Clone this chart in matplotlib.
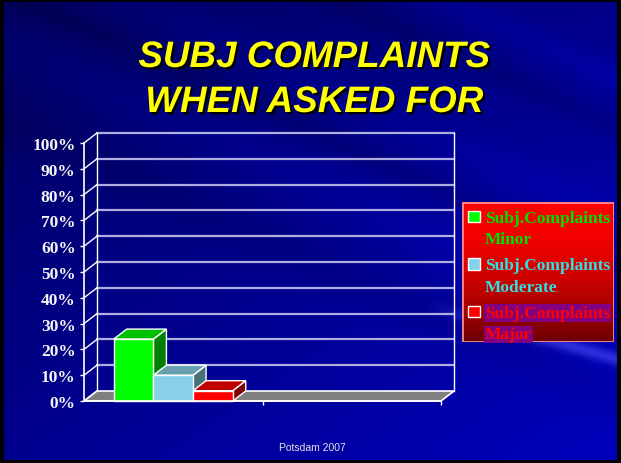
import numpy as np
import matplotlib
matplotlib.use('Agg')
import matplotlib.pyplot as plt
from matplotlib.patches import Polygon, Rectangle
import matplotlib.patheffects as pe

# ---- data ----
categories = ['', '']          # two category slots, only the first one holds bars
series = ['Minor', 'Moderate', 'Major']
values = [24, 10, 4]           # percent, first category
legend_prefix = 'Subj.Complaints'
y_ticks = list(range(0, 101, 10))
title_lines = ['SUBJ COMPLAINTS', 'WHEN ASKED FOR']
footer = 'Potsdam 2007'

# colours: front / top / side of each box, legend text colour
front_col = ['#00ff00', '#88d0ea', '#ff0000']
top_col = ['#00c000', '#68a0b0', '#c00000']
side_col = ['#008000', '#487078', '#800000']
text_col = ['#00e000', '#33dede', '#ff0000']
label_bg = [None, None, '#800080']

W, H = 621, 464
fig = plt.figure(figsize=(W / 100, H / 100), dpi=100)
fig.patch.set_facecolor('black')

# ---- slide background (dark blue with diagonal streaks) ----
bg = fig.add_axes([4 / W, 3 / H, (W - 8) / W, (H - 6) / H])
bh, bw = 458, 613
yy, xx = np.mgrid[0:bh, 0:bw].astype(float)
blue = 0.36 + 0.18 * xx / bw + 0.2 * yy / bh
p = yy - 0.45 * xx
for c, s, a in [(-60, 25, 0.05), (-150, 14, -0.06), (40, 30, 0.05),
                (-200, 18, 0.07), (120, 25, -0.04), (-10, 12, -0.05)]:
    blue += a * np.exp(-((p - c) / s) ** 2)
q = yy - 0.28 * xx
light = np.exp(-((q - 185) / 7) ** 2) * np.clip((xx - 420) / 80, 0, 1) * 0.18
img = np.dstack([light, light, np.clip(blue + light, 0, 1)])
bg.imshow(img, aspect='auto', interpolation='bilinear')
bg.axis('off')

# ---- 3d-looking column chart ----
ax = fig.add_axes([84 / W, (H - 402) / H, (441 - 84) / W, (402 - 144) / H])
ax.set_xlim(0, len(categories))
ax.set_ylim(0, 100)
ax.patch.set_alpha(0)
dx = 13 * len(categories) / (441 - 84)
dy = 10 * 100 / (402 - 144)
xmax = len(categories)

grid_c = '#aeaee0'
for v in y_ticks[1:]:
    ax.plot([dx, xmax + dx], [v + dy, v + dy], color=grid_c, lw=1.6, clip_on=False, zorder=1)
for v in y_ticks:
    ax.plot([0, dx], [v, v + dy], color='white', lw=1, clip_on=False, zorder=1)
ax.plot([dx, dx], [dy, 100 + dy], color='white', lw=1, clip_on=False, zorder=1)
ax.plot([xmax + dx, xmax + dx], [dy, 100 + dy], color='white', lw=1, clip_on=False, zorder=1)

floor = Polygon([(0, 0), (xmax, 0), (xmax + dx, dy), (dx, dy)], closed=True,
                facecolor='#808080', edgecolor='white', lw=1.2, clip_on=False, zorder=2)
ax.add_patch(floor)

n = len(values)
bw_ = (2 / 3) / n
for i, val in enumerate(values):
    x0 = 0.5 - n * bw_ / 2 + i * bw_
    z = 3 + i
    side = Polygon([(x0 + bw_, 0), (x0 + bw_ + dx, dy), (x0 + bw_ + dx, val + dy), (x0 + bw_, val)],
                   closed=True, facecolor=side_col[i], edgecolor='white', lw=1, clip_on=False, zorder=z)
    top = Polygon([(x0, val), (x0 + bw_, val), (x0 + bw_ + dx, val + dy), (x0 + dx, val + dy)],
                  closed=True, facecolor=top_col[i], edgecolor='white', lw=1, clip_on=False, zorder=z)
    front = Rectangle((x0, 0), bw_, val, facecolor=front_col[i], edgecolor='white',
                      lw=1, clip_on=False, zorder=z)
    ax.add_patch(side)
    ax.add_patch(top)
    ax.add_patch(front)

for s in ['top', 'right']:
    ax.spines[s].set_visible(False)
for s in ['left', 'bottom']:
    ax.spines[s].set_color('white')
    ax.spines[s].set_linewidth(1.2)
    ax.spines[s].set_zorder(10)
ax.set_yticks(y_ticks)
ax.set_yticklabels([f'{v}%' for v in y_ticks])
ax.set_xticks(range(1, xmax + 1))
ax.set_xticklabels([])
ax.tick_params(colors='white', length=3, width=1, pad=3)
for lab in ax.get_yticklabels():
    lab.set_fontfamily('Liberation Serif')
    lab.set_fontweight('bold')
    lab.set_fontsize(12.5)
    lab.set_color('#f4f4f4')

# ---- legend ----
lax = fig.add_axes([462 / W, (H - 343) / H, 152 / W, 140 / H])
lax.set_xlim(0, 152)
lax.set_ylim(140, 0)
t = np.linspace(0, 1, 140)[:, None]
red = 1 - 0.58 * t ** 1.8
lax.imshow(np.dstack([red, np.zeros_like(red), np.zeros_like(red)]),
           extent=(0, 152, 140, 0), aspect='auto')
lax.add_patch(Rectangle((0.5, 0.5), 151, 139, facecolor='none', edgecolor='#ff9a9a', lw=1.2))
lax.axis('off')
for i, name in enumerate(series):
    base = 20 + i * 47.5
    lax.add_patch(Rectangle((6, base - 11.5), 11.5, 11.5, facecolor=front_col[i],
                            edgecolor='white', lw=1))
    kw = dict(fontfamily='Liberation Serif', fontweight='bold', fontsize=12.5,
              color=text_col[i], va='baseline', ha='left')
    if label_bg[i]:
        kw['bbox'] = dict(facecolor=label_bg[i], edgecolor='none', pad=0.5)
    lax.text(23, base, legend_prefix, **kw)
    lax.text(23, base + 21.5, name, **kw)

# ---- title and footer ----
shadow = [pe.withSimplePatchShadow(offset=(1.6, -1.6), shadow_rgbFace='black', alpha=1.0)]
for k, line in enumerate(title_lines):
    fig.text(314 / W, 1 - (68 + 45 * k) / H, line, ha='center', va='baseline',
             fontsize=26.5, fontweight='bold', style='italic', color='#ffff00',
             fontfamily='Liberation Sans', path_effects=shadow)

fig.text(312 / W, 1 - 448 / H, footer, ha='center', va='center', fontsize=7.5,
         color='#e4e4e4', fontfamily='Liberation Sans')

fig.savefig('out.png', dpi=100, facecolor=fig.get_facecolor())
